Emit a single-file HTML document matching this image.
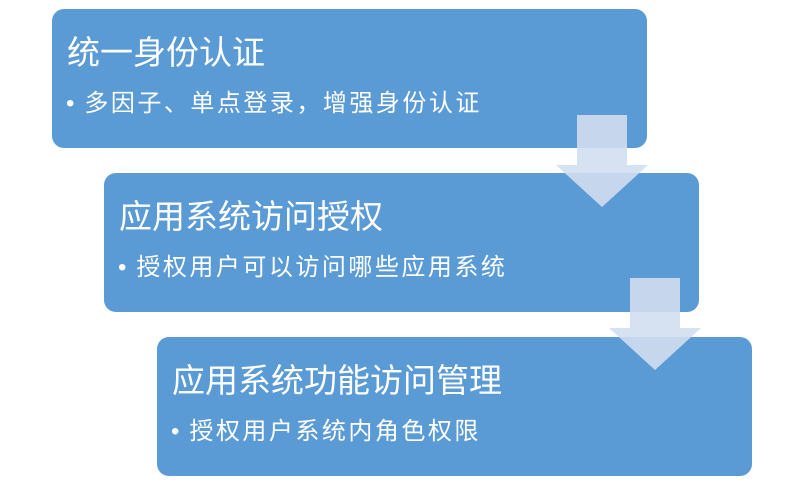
<!DOCTYPE html>
<html><head><meta charset="utf-8"><style>
body{margin:0;width:799px;height:483px;background:#fff;overflow:hidden;position:relative;font-family:"Liberation Sans","Noto Sans CJK SC",sans-serif;color:#fff}
.b{position:absolute;background:#5b9bd5;border-radius:12px;width:595px;height:139px}
.t{position:absolute;left:15px;top:25px;font-size:33px;line-height:38px;white-space:nowrap}
.s{position:absolute;left:14px;top:80px;font-size:24px;line-height:30px;white-space:nowrap;letter-spacing:2.5px}
.s span{letter-spacing:0;margin-right:10px}
svg{position:absolute;left:0;top:0}
</style></head><body>
<div class="b" style="left:52px;top:9px"><div class="t">统一身份认证</div><div class="s"><span>•</span>多因子、单点登录，增强身份认证</div></div>
<div class="b" style="left:104px;top:173px"><div class="t">应用系统访问授权</div><div class="s"><span>•</span>授权用户可以访问哪些应用系统</div></div>
<div class="b" style="left:157px;top:337px"><div class="t">应用系统功能访问管理</div><div class="s"><span>•</span>授权用户系统内角色权限</div></div>
<svg width="799" height="483">
<polygon points="577,115 627,115 627,165 648,165 602,207 556,165 577,165" fill="rgb(209,222,240)" fill-opacity="0.9"/>
<polygon points="630,278 680,278 680,328 701,328 655,370 609,328 630,328" fill="rgb(209,222,240)" fill-opacity="0.9"/>
</svg>
</body></html>
